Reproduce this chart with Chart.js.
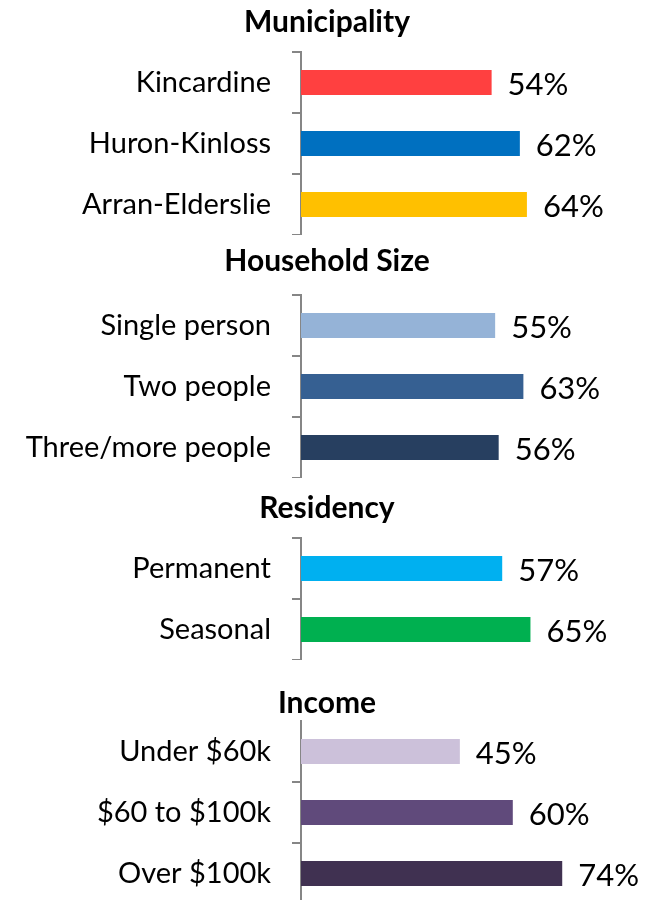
<!DOCTYPE html>
<html>
<head>
<meta charset="utf-8">
<script src="https://cdn.jsdelivr.net/npm/chart.js@4.4.0/dist/chart.umd.min.js"></script>
<style>
  html, body { margin: 0; padding: 0; background: #fff; overflow: hidden; }
  #wrap { position: relative; width: 658px; height: 900px; }
  #wrap canvas { position: absolute; left: 0; }
</style>
</head>
<body>
<div id="wrap">
  <canvas id="municipality"></canvas>
  <canvas id="household"></canvas>
  <canvas id="residency"></canvas>
  <canvas id="income"></canvas>
</div>
<script>
// share of respondents (%) by group
const municipalityLabels = ["Kincardine", "Huron-Kinloss", "Arran-Elderslie"];
const municipalityValues = [54, 62, 64];

const householdLabels = ["Single person", "Two people", "Three/more people"];
const householdValues = [55, 63, 56];

const residencyLabels = ["Permanent", "Seasonal"];
const residencyValues = [57, 65];

const incomeLabels = ["Under $60k", "$60 to $100k", "Over $100k"];
const incomeValues = [45, 60, 74];

// one small bar chart per group, stacked down the page
const panels = [
    { id: "municipality", title: "Municipality", labels: municipalityLabels, values: municipalityValues,
      colors: ["#FF4040", "#0070C0", "#FFC000"], titleY: 22, top: 52, bottom: 235 },
    { id: "household", title: "Household Size", labels: householdLabels, values: householdValues,
      colors: ["#95B3D7", "#366092", "#273F60"], titleY: 261, top: 295, bottom: 478 },
    { id: "residency", title: "Residency", labels: residencyLabels, values: residencyValues,
      colors: ["#00B0F0", "#00B050"], titleY: 508, top: 538, bottom: 660 },
    { id: "income", title: "Income", labels: incomeLabels, values: incomeValues,
      colors: ["#CCC1DA", "#604A7B", "#403151"], titleY: 703, top: 721, bottom: 904, noTopTick: true }
];

const AXIS_GREY = "#868686";
const TITLE_SIZE = 30;

// percentage text to the right of each bar
const valueLabels = {
    id: "valueLabels",
    afterDatasetsDraw(chart) {
        const ctx = chart.ctx;
        const data = chart.data.datasets[0].data;
        ctx.save();
        ctx.font = "31px Lato";
        ctx.fillStyle = "#000";
        ctx.textAlign = "left";
        ctx.textBaseline = "middle";
        chart.getDatasetMeta(0).data.forEach((bar, i) => {
            ctx.fillText(data[i] + "%", bar.x + 16, bar.y + 2);
        });
        ctx.restore();
    }
};

panels.forEach(p => {

    const canvas = document.getElementById(p.id);
    const canvasTop = p.titleY - 20;
    const half = TITLE_SIZE * 1.2 / 2;

    canvas.width = 658;
    canvas.height = p.bottom - canvasTop;
    canvas.style.top = canvasTop + "px";

    new Chart(canvas, {
        type: "bar",
        data: {
            labels: p.labels,
            datasets: [{
                data: p.values,
                backgroundColor: p.colors,
                categoryPercentage: 1,
                barPercentage: 0.41
            }]
        },
        plugins: [valueLabels],
        options: {
            indexAxis: "y",
            responsive: false,
            animation: false,
            layout: { padding: { left: 0, right: 4, top: 0, bottom: 0 } },
            plugins: {
                legend: { display: false },
                tooltip: { enabled: false },
                title: {
                    display: true,
                    text: p.title,
                    color: "#000",
                    font: { family: "Lato", size: TITLE_SIZE, weight: "bold", lineHeight: 1.2 },
                    padding: { top: 20 - half, bottom: p.top - p.titleY - half }
                }
            },
            scales: {
                x: { display: false, min: 0, max: 100 },
                y: {
                    grid: {
                        drawOnChartArea: false,
                        offset: true,
                        tickLength: 9,
                        color: c => (p.noTopTick && c.index === 0) ? "rgba(0,0,0,0)" : AXIS_GREY,
                        lineWidth: 2
                    },
                    border: { color: AXIS_GREY, width: 2 },
                    ticks: {
                        color: "#000",
                        padding: 21,
                        font: { family: "Lato", size: 29 }
                    },
                    afterFit(scale) {
                        scale.width = 301;
                        scale.paddingTop = 0;
                        scale.paddingBottom = 0;
                    }
                }
            }
        }
    });

});
</script>
</body>
</html>
